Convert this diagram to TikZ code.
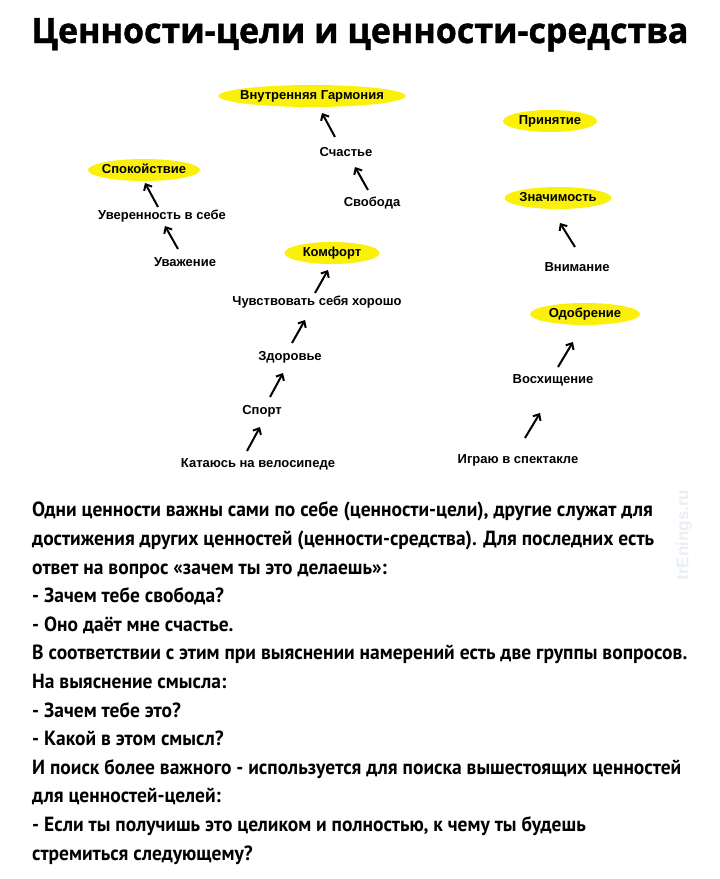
\documentclass[tikz,border=0pt]{standalone}
\usepackage{fontspec}
\setmainfont{Liberation Sans}
\newfontfamily\labelfont{Liberation Sans}
\newfontfamily\bodyfont[FakeStretch=0.95]{PT Sans}
\newfontfamily\headfont[FakeStretch=0.97, BoldFeatures={FakeBold=1.2}]{Open Sans}
\usetikzlibrary{shapes.geometric,arrows.meta,calc}

\definecolor{goalyellow}{RGB}{250,240,10}
\definecolor{markgray}{RGB}{234,239,244}

\begin{document}
\begin{tikzpicture}[
    x=1pt, y=-1pt,
    title/.style={font=\headfont\bfseries\fontsize{35}{35}\selectfont, inner sep=0pt},
    value/.style={font=\labelfont\bfseries\fontsize{13}{13}\selectfont, inner sep=0pt, text height=10pt, text depth=3pt},
    goal/.style={value, ellipse, fill=goalyellow, inner xsep=-20pt, minimum height=22pt},
    body/.style={font=\bodyfont\bfseries\fontsize{20.5}{28.6}\selectfont, inner sep=0pt, align=left},
    stamp/.style={font=\labelfont\bfseries\fontsize{17}{17}\selectfont, text=markgray, rotate=90, inner sep=0pt},
    arrow/.style={-{Straight Barb[length=5pt,width=9pt]}, line width=2pt}
]
    \fill[white] (0,0) rectangle (720,879);
    \useasboundingbox (0,0) rectangle (720,879);

    % Title
    \node[title, anchor=base] (title) at (360,43) {Ценности-цели и ценности-средства};

    % Goals
    \node[goal, minimum width=187pt] (garmonia) at (312,96) {Внутренняя Гармония};
    \node[goal, minimum width=112pt] (spokoistvie) at (144,170) {Спокойствие};
    \node[goal, minimum width=95pt] (komfort) at (332,253) {Комфорт};
    \node[goal, minimum width=94pt] (prinyatie) at (550,121) {Принятие};
    \node[goal, minimum width=107pt] (znachimost) at (558,198) {Значимость};
    \node[goal, minimum width=110pt] (odobrenie) at (585,314) {Одобрение};

    % Means
    \node[value] (schastye) at (346,153) {Счастье};
    \node[value] (svoboda) at (372,203) {Свобода};
    \node[value] (uverennost) at (162,216) {Уверенность в себе};
    \node[value] (uvazhenie) at (185,263) {Уважение};
    \node[value] (chuvstvovat) at (317,302) {Чувствовать себя хорошо};
    \node[value] (zdorovie) at (290,357) {Здоровье};
    \node[value] (sport) at (262,411) {Спорт};
    \node[value] (katayus) at (258,464) {Катаюсь на велосипеде};
    \node[value] (vnimanie) at (577,268) {Внимание};
    \node[value] (voshishchenie) at (553,380) {Восхищение};
    \node[value] (igrayu) at (518,460) {Играю в спектакле};

    % Connections
    \draw[arrow] ($(schastye)+(-11,-16)$) -- ($(garmonia)+(10,17)$);
    \draw[arrow] ($(svoboda)+(-4,-13)$) -- ($(schastye)+(9,14)$);
    \draw[arrow] ($(uverennost)+(-4,-9)$) -- ($(spokoistvie)+(1,13)$);
    \draw[arrow] ($(uvazhenie)+(-7,-14)$) -- ($(uverennost)+(3,10)$);
    \draw[arrow] ($(chuvstvovat)+(-2,-9)$) -- ($(komfort)+(-4,17)$);
    \draw[arrow] ($(zdorovie)+(2,-14)$) -- ($(chuvstvovat)+(-12,18)$);
    \draw[arrow] ($(sport)+(8,-14)$) -- ($(zdorovie)+(-7,16)$);
    \draw[arrow] ($(katayus)+(-11,-13)$) -- ($(sport)+(-2,16)$);
    \draw[arrow] ($(vnimanie)+(-2,-21)$) -- ($(znachimost)+(2,25)$);
    \draw[arrow] ($(voshishchenie)+(5,-13)$) -- ($(odobrenie)+(-12,28)$);
    \draw[arrow] ($(igrayu)+(7,-22)$) -- ($(voshishchenie)+(-13,33)$);

    % Text
    \node[body, anchor=base west] (text) at (32,860) {%
        Одни ценности важны сами по себе (ценности-цели), другие служат для\\
        достижения других ценностей (ценности-средства). Для последних есть\\
        ответ на вопрос «зачем ты это делаешь»:\\
        - Зачем тебе свобода?\\
        - Оно даёт мне счастье.\\
        В соответствии с этим при выяснении намерений есть две группы вопросов.\\
        На выяснение смысла:\\
        - Зачем тебе это?\\
        - Какой в этом смысл?\\
        И поиск более важного - используется для поиска вышестоящих ценностей\\
        для ценностей-целей:\\
        - Если ты получишь это целиком и полностью, к чему ты будешь\\
        стремиться следующему?};

    % Watermark
    \node[stamp] (watermark) at (684,535) {trEnings.ru};
\end{tikzpicture}
\end{document}
